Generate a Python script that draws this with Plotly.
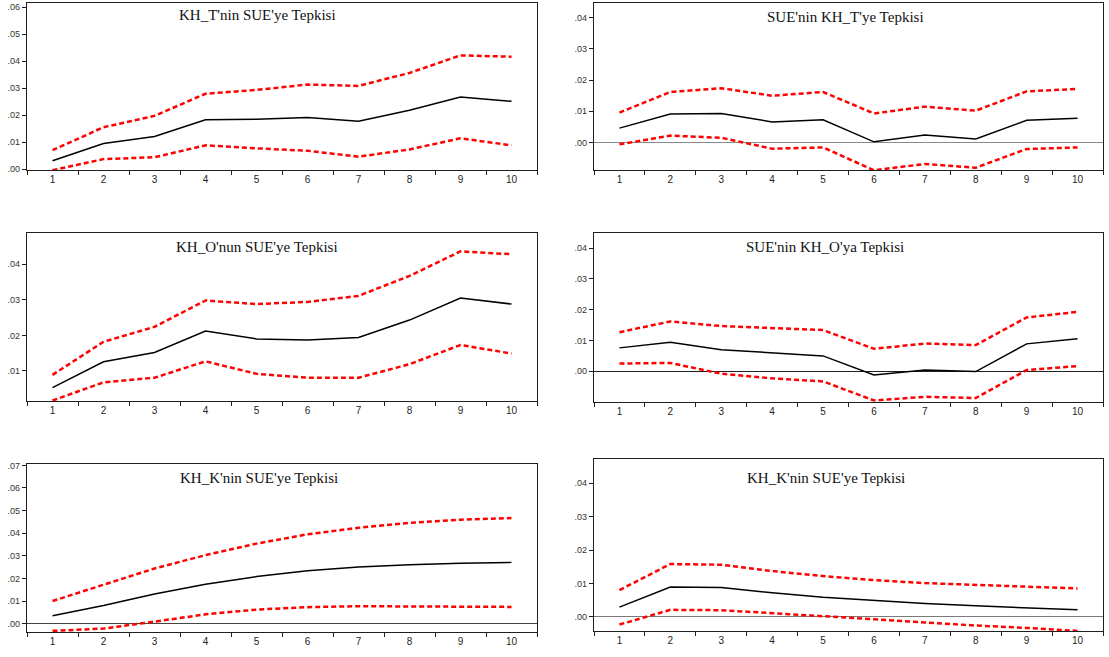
import plotly.graph_objects as go

W, H = 1109, 657

periods = [str(i) for i in range(1, 11)]

titles = [
    "KH_T'nin SUE'ye Tepkisi",
    "SUE'nin KH_T'ye Tepkisi",
    "KH_O'nun SUE'ye Tepkisi",
    "SUE'nin KH_O'ya Tepkisi",
    "KH_K'nin SUE'ye Tepkisi",
    "KH_K'nin SUE'ye Tepkisi",
]

# Panel 1: KH_T response to SUE
p1_resp = [0.0031, 0.0095, 0.0121, 0.0183, 0.0185, 0.0191, 0.0177, 0.0218, 0.0267, 0.0251]
p1_upper = [0.0070, 0.0155, 0.0197, 0.0279, 0.0293, 0.0313, 0.0308, 0.0356, 0.0421, 0.0416]
p1_lower = [-0.0004, 0.0037, 0.0044, 0.0088, 0.0077, 0.0068, 0.0046, 0.0073, 0.0114, 0.0088]

# Panel 2: SUE response to KH_T
p2_resp = [0.0046, 0.0091, 0.0093, 0.0066, 0.0073, 0.0002, 0.0024, 0.0011, 0.0071, 0.0078]
p2_upper = [0.0096, 0.0162, 0.0174, 0.0150, 0.0162, 0.0093, 0.0115, 0.0102, 0.0164, 0.0172]
p2_lower = [-0.0006, 0.0022, 0.0015, -0.0020, -0.0016, -0.0089, -0.0069, -0.0081, -0.0021, -0.0016]

# Panel 3: KH_O response to SUE
p3_resp = [0.0053, 0.0126, 0.0152, 0.0212, 0.0190, 0.0187, 0.0194, 0.0243, 0.0305, 0.0288]
p3_upper = [0.0089, 0.0182, 0.0224, 0.0298, 0.0288, 0.0294, 0.0311, 0.0367, 0.0436, 0.0428]
p3_lower = [0.0017, 0.0068, 0.0081, 0.0127, 0.0092, 0.0081, 0.0081, 0.0119, 0.0173, 0.0149]

# Panel 4: SUE response to KH_O
p4_resp = [0.0076, 0.0094, 0.0070, 0.0059, 0.0050, -0.0012, 0.0004, -0.0001, 0.0089, 0.0106]
p4_upper = [0.0127, 0.0162, 0.0147, 0.0141, 0.0134, 0.0073, 0.0090, 0.0085, 0.0175, 0.0193]
p4_lower = [0.0025, 0.0027, -0.0008, -0.0023, -0.0033, -0.0095, -0.0083, -0.0087, 0.0004, 0.0017]

# Panel 5: KH_K response to SUE
p5_resp = [0.0035, 0.0080, 0.0131, 0.0174, 0.0208, 0.0234, 0.0250, 0.0261, 0.0267, 0.0271]
p5_upper = [0.0100, 0.0173, 0.0244, 0.0303, 0.0354, 0.0395, 0.0424, 0.0446, 0.0460, 0.0467]
p5_lower = [-0.0032, -0.0022, 0.0009, 0.0041, 0.0062, 0.0073, 0.0077, 0.0077, 0.0075, 0.0074]

# Panel 6: (second) KH_K / SUE response
p6_resp = [0.0029, 0.0089, 0.0088, 0.0072, 0.0059, 0.0049, 0.0040, 0.0033, 0.0026, 0.0021]
p6_upper = [0.0080, 0.0158, 0.0156, 0.0137, 0.0122, 0.0110, 0.0101, 0.0095, 0.0089, 0.0085]
p6_lower = [-0.0023, 0.0021, 0.0020, 0.0012, 0.0002, -0.0007, -0.0017, -0.0026, -0.0033, -0.0042]

series = [
    (p1_resp, p1_upper, p1_lower),
    (p2_resp, p2_upper, p2_lower),
    (p3_resp, p3_upper, p3_lower),
    (p4_resp, p4_upper, p4_lower),
    (p5_resp, p5_upper, p5_lower),
    (p6_resp, p6_upper, p6_lower),
]

y_tick_vals = [
    [0.00, 0.01, 0.02, 0.03, 0.04, 0.05, 0.06],
    [0.00, 0.01, 0.02, 0.03, 0.04],
    [0.01, 0.02, 0.03, 0.04],
    [0.00, 0.01, 0.02, 0.03, 0.04],
    [0.00, 0.01, 0.02, 0.03, 0.04, 0.05, 0.06, 0.07],
    [0.00, 0.01, 0.02, 0.03, 0.04],
]

y_ranges = [
    [-0.0004, 0.0613],
    [-0.0089, 0.0446],
    [0.0015, 0.0489],
    [-0.0099, 0.0451],
    [-0.0038, 0.0706],
    [-0.0043, 0.0472],
]

# pixel boxes (left, top, right, bottom)
boxes = [
    (27, 0.5, 537, 169),
    (594, 0.5, 1103, 169),
    (27, 232, 537, 402.5),
    (594, 232, 1103, 403),
    (27, 466, 537, 636),
    (594, 461, 1103, 635),
]

zero_colors = [None, "#8a8a8a", None, "#222222", "#444444", "#7a7a7a"]

title_pos = [(257, 12), (845, 14), (257, 247), (825, 247), (259, 480), (826, 480)]


def fmt(v):
    s = f"{v:.2f}"
    return s.replace("0.", ".", 1)


fig = go.Figure()
ax_color = "#1e1e1e"

for i, (resp, up, lo) in enumerate(series):
    n = i + 1
    xa = "x" if n == 1 else f"x{n}"
    ya = "y" if n == 1 else f"y{n}"
    for vals, color, dash, width in [
        (up, "#ff0000", "5px,3px", 2.5),
        (lo, "#ff0000", "5px,3px", 2.5),
        (resp, "#000000", "solid", 1.5),
    ]:
        fig.add_trace(go.Scatter(
            x=periods, y=vals, mode="lines", xaxis=xa, yaxis=ya,
            line=dict(color=color, dash=dash, width=width),
            showlegend=False, hoverinfo="skip", cliponaxis=True,
        ))
    l, t, r, b = boxes[i]
    xkey = "xaxis" if n == 1 else f"xaxis{n}"
    ykey = "yaxis" if n == 1 else f"yaxis{n}"
    zc = zero_colors[i]
    fig.update_layout(**{
        xkey: dict(
            domain=[l / W, r / W], anchor=ya, type="category",
            range=[-0.5, 9.5], tickson="boundaries", ticks="outside",
            ticklen=4, tickwidth=1, tickcolor=ax_color,
            showline=True, linecolor=ax_color, linewidth=1.3, mirror=True,
            showgrid=False, zeroline=False,
            tickfont=dict(family="Liberation Sans, Arial, sans-serif", size=10, color="#222"),
        ),
        ykey: dict(
            domain=[1 - b / H, 1 - t / H], anchor=xa, range=y_ranges[i],
            tickmode="array", tickvals=y_tick_vals[i],
            ticktext=[fmt(v) for v in y_tick_vals[i]],
            ticks="outside", ticklen=4, tickwidth=1, tickcolor=ax_color,
            showline=True, linecolor=ax_color, linewidth=1.3, mirror=True,
            showgrid=False,
            zeroline=zc is not None, zerolinecolor=zc or "#000", zerolinewidth=1,
            tickfont=dict(family="Liberation Sans, Arial, sans-serif", size=9, color="#333"),
        ),
    })
    tx, ty = title_pos[i]
    fig.add_annotation(
        x=tx / W, y=1 - ty / H, xref="paper", yref="paper",
        text=titles[i], showarrow=False, xanchor="center", yanchor="middle",
        font=dict(family="Liberation Serif, Times New Roman, serif", size=15, color="#111"),
    )

fig.update_layout(
    width=W, height=H,
    margin=dict(l=0, r=0, t=0, b=0),
    paper_bgcolor="white", plot_bgcolor="white",
    showlegend=False,
)

fig.write_html(
    "out.html",
    config={"displayModeBar": False},
    post_script="document.body.style.margin='0';document.body.style.overflow='hidden';",
)
